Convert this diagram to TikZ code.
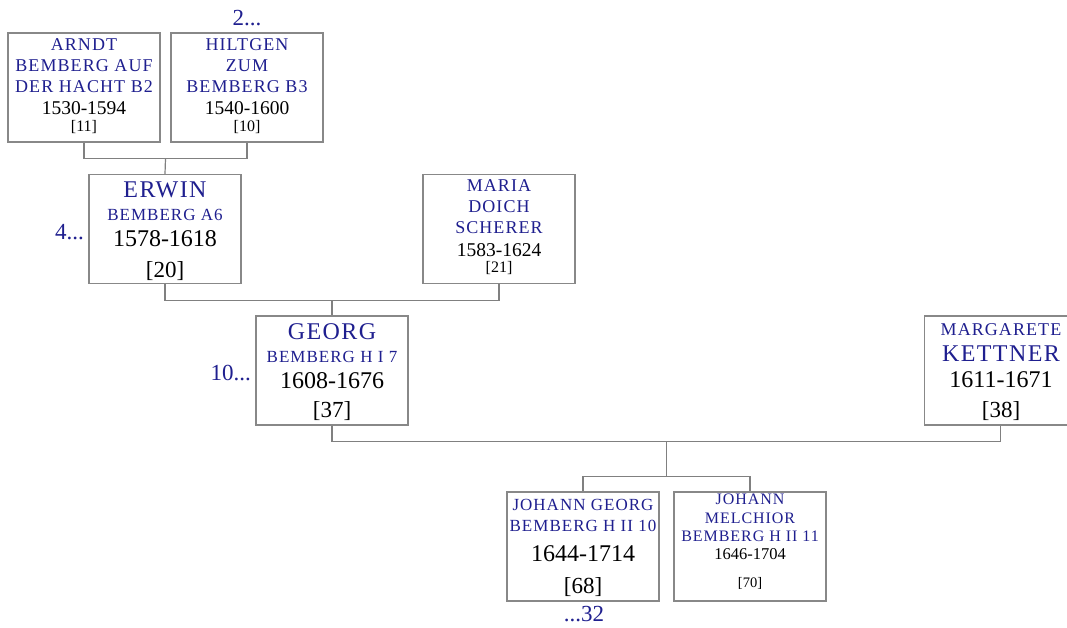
\documentclass[tikz,border=0pt]{standalone}
\usepackage{fontspec}
\setmainfont{Liberation Serif}
\newfontfamily\namefont[LetterSpace=6]{Liberation Serif}
\usetikzlibrary{calc}
\definecolor{nameblue}{RGB}{31,31,143}
\definecolor{boxgray}{RGB}{136,136,136}
\definecolor{linegray}{RGB}{128,128,128}
\newcommand{\fsz}[1]{\fontsize{#1}{#1}\selectfont}
\tikzset{
  person/.style={draw=boxgray, line width=1.2pt, minimum width=152pt, minimum height=109pt, inner sep=0pt, fill=white},
  link/.style={draw=linegray, line width=1.2pt},
  nmS/.style={text=nameblue, inner sep=0pt, font=\namefont\fsz{18}},
  nmL/.style={text=nameblue, inner sep=0pt, font=\namefont\fsz{24}},
  nmM/.style={text=nameblue, inner sep=0pt, font=\namefont\fsz{17}},
  nmT/.style={text=nameblue, inner sep=0pt, font=\namefont\fsz{16}},
  yrS/.style={inner sep=0pt, font=\fsz{19.5}},
  yrL/.style={inner sep=0pt, font=\fsz{24}},
  yrT/.style={inner sep=0pt, font=\fsz{16.5}},
  idS/.style={inner sep=0pt, font=\fsz{16}},
  idL/.style={inner sep=0pt, font=\fsz{23}},
  idT/.style={inner sep=0pt, font=\fsz{14.5}},
  more/.style={text=nameblue, inner sep=0pt, font=\fsz{23}},
}
\begin{document}
\begin{tikzpicture}[x=1pt,y=-1pt]
\clip (0,0) rectangle (1067,628);
\fill[white] (0,0) rectangle (1067,628);
% boxes
\node[person] (arndt) at (84,87.5) {};
\node[person] (hiltgen) at (247,87.5) {};
\node[person] (erwin) at (165,229) {};
\node[person] (maria) at (499,229) {};
\node[person] (georg) at (332,370.5) {};
\node[person] (marg) at (1000.5,370.5) {};
\node[person] (jg) at (583,546.5) {};
\node[person] (jm) at (750,546.5) {};
% connectors
\coordinate (j1) at ($(arndt.south)!0.5!(hiltgen.south)+(0,16)$);
\draw[link] (arndt.south) |- (j1) -| (hiltgen.south);
\draw[link] (j1) -- (erwin.north);
\coordinate (j2) at ($(erwin.south)!0.5!(maria.south)+(0,16)$);
\draw[link] (erwin.south) |- (j2) -| (maria.south);
\draw[link] (j2) -- (georg.north);
\coordinate (j3) at ($(georg.south)!0.5!(marg.south)+(0,16)$);
\draw[link] (georg.south) |- (j3) -| (marg.south);
\coordinate (j4) at ($(j3)+(0,35)$);
\draw[link] (j3) -- (j4);
\draw[link] (jg.north) |- (j4) -| (jm.north);
% Arndt
\node[nmS] (a1) at (84,45) {ARNDT};
\node[nmS] (a2) at (84,66) {BEMBERG AUF};
\node[nmS] (a3) at (84,87) {DER HACHT B2};
\node[yrS] (a4) at (84,108) {1530-1594};
\node[idS] (a5) at (84,127) {[11]};
% Hiltgen
\node[nmS] (h1) at (247,45) {HILTGEN};
\node[nmS] (h2) at (247,66) {ZUM};
\node[nmS] (h3) at (247,87) {BEMBERG B3};
\node[yrS] (h4) at (247,108) {1540-1600};
\node[idS] (h5) at (247,127) {[10]};
% Erwin
\node[nmL] (e1) at (165,190) {ERWIN};
\node[nmM] (e2) at (165,215) {BEMBERG A6};
\node[yrL] (e3) at (165,239) {1578-1618};
\node[idL] (e4) at (165,271) {[20]};
% Maria
\node[nmS] (m1) at (499,186) {MARIA};
\node[nmS] (m2) at (499,207) {DOICH};
\node[nmS] (m3) at (499,228) {SCHERER};
\node[yrS] (m4) at (499,250) {1583-1624};
\node[idS] (m5) at (499,268) {[21]};
% Georg
\node[nmL] (g1) at (332,332) {GEORG};
\node[nmM] (g2) at (332,357) {BEMBERG H I 7};
\node[yrL] (g3) at (332,381) {1608-1676};
\node[idL] (g4) at (332,411) {[37]};
% Margarete
\node[nmS] (k1) at (1001,330) {MARGARETE};
\node[nmL] (k2) at (1001,354) {KETTNER};
\node[yrL] (k3) at (1001,380) {1611-1671};
\node[idL] (k4) at (1001,411) {[38]};
% Johann Georg
\node[nmM] (jg1) at (583,505) {JOHANN GEORG};
\node[nmM] (jg2) at (583,526) {BEMBERG H II 10};
\node[yrL] (jg3) at (583,554) {1644-1714};
\node[idL] (jg4) at (583,587) {[68]};
% Johann Melchior
\node[nmT] (jm1) at (750,499) {JOHANN};
\node[nmT] (jm2) at (750,518) {MELCHIOR};
\node[nmT] (jm3) at (750,536) {BEMBERG H II 11};
\node[yrT] (jm4) at (750,554) {1646-1704};
\node[idT] (jm5) at (750,583) {[70]};
% continuation marks
\node[more] (c2) at (247,18) {2...};
\node[more, anchor=east] (c4) at (84,232) {4...};
\node[more, anchor=east] (c10) at (251,373) {10...};
\node[more] (c32) at (584,614) {...32};
\end{tikzpicture}
\end{document}
